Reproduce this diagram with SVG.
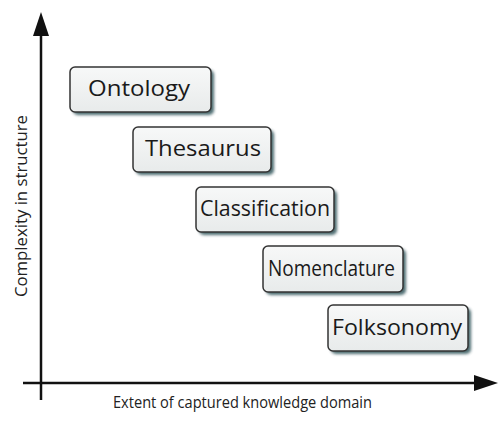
<svg xmlns="http://www.w3.org/2000/svg" width="501" height="423" viewBox="0 0 501 423">
<defs>
  <linearGradient id="boxfill" x1="0" y1="0" x2="0" y2="1">
    <stop offset="0" stop-color="#f7f8f8"/>
    <stop offset="1" stop-color="#e8ebeb"/>
  </linearGradient>
  <filter id="shadow" x="-10%" y="-20%" width="130%" height="160%">
    <feGaussianBlur stdDeviation="1.5"/>
  </filter>
</defs>
<style>
  .shadow { fill: #2d5258; filter: url(#shadow); opacity: 0.85; }
  .box { fill: url(#boxfill); stroke: #333; stroke-width: 1.5; }
  .label { font-family: "Open Sans", "DejaVu Sans", sans-serif; font-size: 22px; fill: #1a1a1a; text-anchor: middle; }
  .axis { stroke: #111; stroke-width: 2.5; fill: none; }
  .axislabel { font-family: "Open Sans", "DejaVu Sans", sans-serif; font-size: 16.5px; fill: #222; text-anchor: middle; }
</style>
<rect width="501" height="423" fill="#ffffff"/>
<g id="axes">
  <line class="axis" x1="41" y1="400" x2="41" y2="30"/>
  <path d="M41,12 L33,36 L49,36 Z" fill="#111"/>
  <line class="axis" x1="23" y1="383" x2="480" y2="383"/>
  <path d="M498,383 L474,375 L474,391 Z" fill="#111"/>
</g>
<text class="axislabel" x="242.5" y="408" textLength="259" lengthAdjust="spacingAndGlyphs">Extent of captured knowledge domain</text>
<text class="axislabel" transform="translate(27,206) rotate(-90)" textLength="182" lengthAdjust="spacingAndGlyphs">Complexity in structure</text>
<g id="ontology">
  <rect class="shadow" x="73" y="70" width="141" height="45" rx="5"/>
  <rect class="box" x="70" y="67" width="141" height="45" rx="5"/>
  <text class="label" x="139" y="96" textLength="102" lengthAdjust="spacingAndGlyphs">Ontology</text>
</g>
<g id="thesaurus">
  <rect class="shadow" x="136" y="130" width="138" height="45" rx="5"/>
  <rect class="box" x="133" y="127" width="138" height="45" rx="5"/>
  <text class="label" x="203" y="156" textLength="116" lengthAdjust="spacingAndGlyphs">Thesaurus</text>
</g>
<g id="classification">
  <rect class="shadow" x="199" y="190" width="138" height="45" rx="5"/>
  <rect class="box" x="196" y="187" width="138" height="45" rx="5"/>
  <text class="label" x="265" y="216" textLength="130" lengthAdjust="spacingAndGlyphs">Classification</text>
</g>
<g id="nomenclature">
  <rect class="shadow" x="266" y="249" width="140" height="46" rx="5"/>
  <rect class="box" x="263" y="246" width="140" height="46" rx="5"/>
  <text class="label" x="331.5" y="276" textLength="127" lengthAdjust="spacingAndGlyphs">Nomenclature</text>
</g>
<g id="folksonomy">
  <rect class="shadow" x="331" y="308" width="140" height="46" rx="5"/>
  <rect class="box" x="328" y="305" width="140" height="46" rx="5"/>
  <text class="label" x="397" y="335" textLength="130" lengthAdjust="spacingAndGlyphs">Folksonomy</text>
</g>
</svg>
